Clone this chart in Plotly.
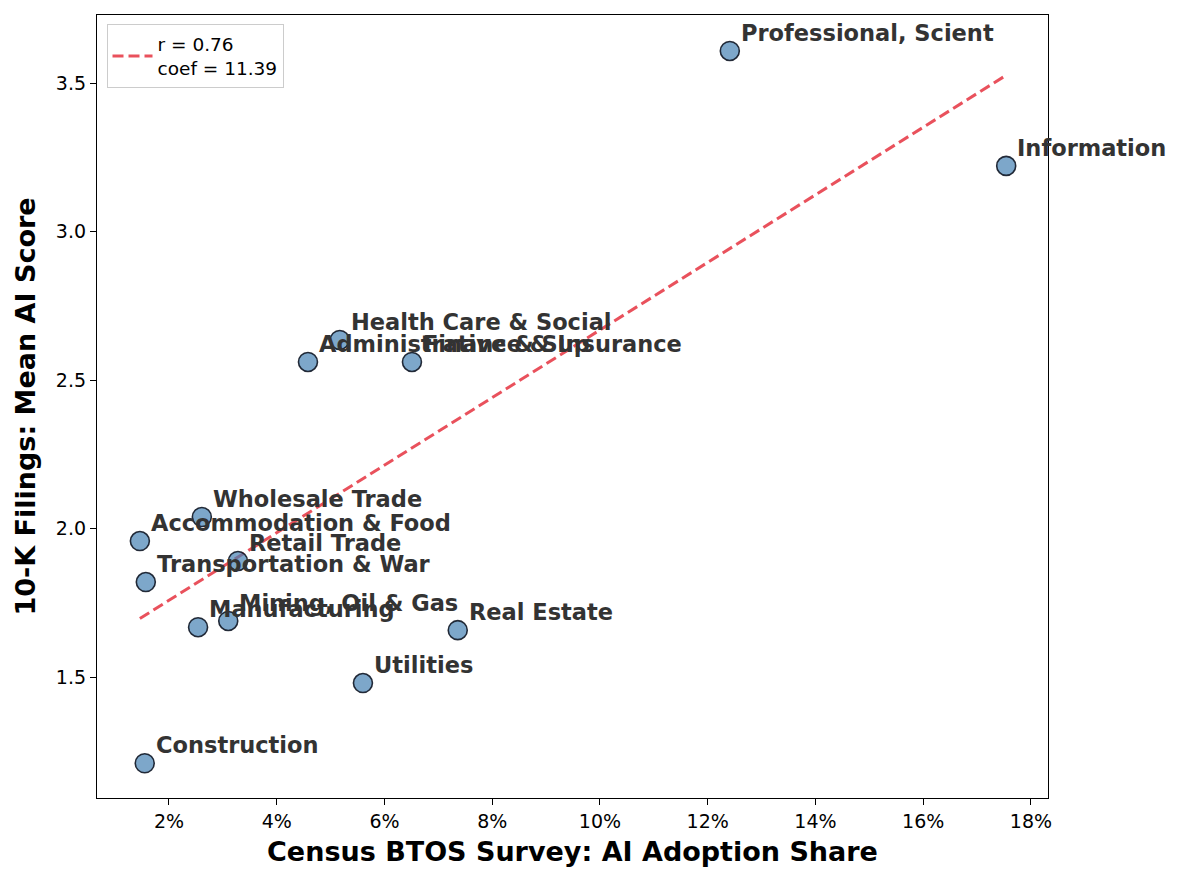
import numpy as np
import plotly.graph_objects as go

industries = ["Professional, Scient", "Information", "Health Care & Social", "Administrative & Sup",
              "Finance & Insurance", "Wholesale Trade", "Accommodation & Food", "Retail Trade",
              "Transportation & War", "Manufacturing", "Mining, Oil & Gas", "Real Estate",
              "Utilities", "Construction"]
adoption_share = [0.1241, 0.1754, 0.0517, 0.0458, 0.0651, 0.0261, 0.0146, 0.0328,
                  0.0157, 0.0254, 0.0310, 0.0736, 0.0560, 0.0155]
mean_ai_score = [3.608, 3.221, 2.635, 2.561, 2.561, 2.039, 1.958, 1.891,
                 1.820, 1.668, 1.689, 1.658, 1.480, 1.210]
legend_label = "r = 0.76<br>coef = 11.39"
x_tick_vals = [0.02, 0.04, 0.06, 0.08, 0.10, 0.12, 0.14, 0.16, 0.18]
y_tick_vals = [1.5, 2.0, 2.5, 3.0, 3.5]

x = np.array(adoption_share)
y = np.array(mean_ai_score)
slope, intercept = np.polyfit(x, y, 1)
xl = np.array([x.min(), x.max()])
yl = slope * xl + intercept

FONT = "DejaVu Sans"
fig = go.Figure()
fig.add_trace(go.Scatter(
    x=xl, y=yl, mode="lines", name=legend_label,
    line=dict(color="rgba(230,57,70,0.88)", width=3, dash="11px,5px"),
    showlegend=True,
))
fig.add_trace(go.Scatter(
    x=adoption_share, y=mean_ai_score, mode="markers", showlegend=False,
    marker=dict(size=19, color="rgba(70,130,180,0.7)",
                line=dict(color="rgba(15,22,35,0.9)", width=1.6)),
))
for name, xv, yv in zip(industries, adoption_share, mean_ai_score):
    fig.add_annotation(x=xv, y=yv, text="<b>" + name + "</b>", showarrow=False,
                       xanchor="left", yanchor="bottom", xshift=9, yshift=3,
                       font=dict(family=FONT, size=22.5, color="#333333"))

fig.update_layout(
    width=1182, height=883,
    margin=dict(l=97, r=134, t=15, b=85),
    paper_bgcolor="white", plot_bgcolor="white",
    font=dict(family=FONT, color="black"),
    legend=dict(x=0.01, y=0.988, xanchor="left", yanchor="top",
                bgcolor="white", bordercolor="#cccccc", borderwidth=1,
                font=dict(family=FONT, size=18.5), itemwidth=40),
)
fig.update_xaxes(
    range=[0.00664, 0.18316], tickvals=x_tick_vals, tickformat=".0%",
    showgrid=False, zeroline=False, showline=True, linecolor="black", linewidth=1.3,
    mirror=True, ticks="outside", ticklen=6, tickwidth=1.3, tickcolor="black",
    tickfont=dict(family=FONT, size=19, color="black"),
    title=dict(text="<b>Census BTOS Survey: AI Adoption Share</b>",
               font=dict(family=FONT, size=27, color="black"), standoff=11),
)
fig.update_yaxes(
    range=[1.093, 3.729], tickvals=y_tick_vals, tickformat=".1f",
    showgrid=False, zeroline=False, showline=True, linecolor="black", linewidth=1.3,
    mirror=True, ticks="outside", ticklen=6, tickwidth=1.3, tickcolor="black",
    tickfont=dict(family=FONT, size=19, color="black"),
    title=dict(text="<b>10-K Filings: Mean AI Score</b>",
               font=dict(family=FONT, size=27, color="black"), standoff=12),
)
fig.write_html("out.html")
